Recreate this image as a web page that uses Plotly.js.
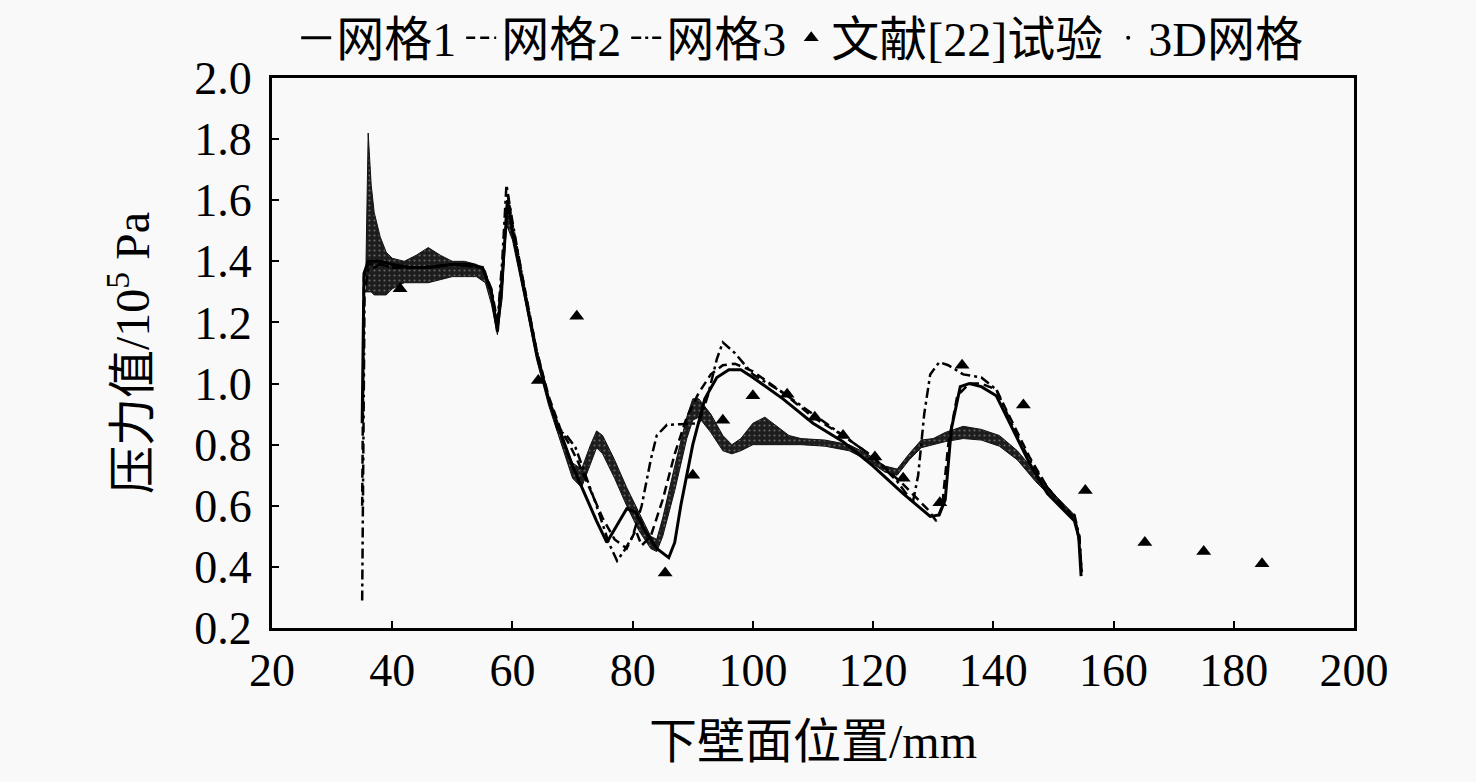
<!DOCTYPE html>
<html>
<head>
<meta charset="utf-8">
<script src="https://cdn.plot.ly/plotly-3.0.1.min.js"></script>
<style>
  html, body { margin: 0; padding: 0; background: #f9f9f9; }
  #myDiv { width: 1476px; height: 782px; }
</style>
</head>
<body>
<div id="myDiv"></div>
<script>
// 网格1 (solid)
var grid1_x = [35, 35.3, 36, 38, 40, 43, 46, 50, 53, 55, 56.5, 57.5, 58.3, 59.2, 60, 62, 64, 66, 68, 70, 72, 74, 75.7, 77.5, 79, 80.5, 82, 84, 86, 87, 88, 90, 92, 94, 96, 98, 100, 105, 110, 115, 120, 125, 129.5, 131, 132, 133, 134.5, 136, 138, 140.5, 143, 146, 149, 152, 153.5, 154.2, 154.6];
var grid1_y = [0.87, 1.36, 1.40, 1.40, 1.39, 1.38, 1.38, 1.39, 1.39, 1.38, 1.30, 1.17, 1.35, 1.60, 1.50, 1.30, 1.10, 0.95, 0.84, 0.73, 0.64, 0.55, 0.48, 0.54, 0.59, 0.58, 0.52, 0.46, 0.43, 0.48, 0.60, 0.80, 0.95, 1.02, 1.045, 1.045, 1.02, 0.95, 0.87, 0.81, 0.73, 0.64, 0.565, 0.57, 0.62, 0.85, 0.99, 1.00, 0.99, 0.96, 0.86, 0.74, 0.64, 0.58, 0.55, 0.50, 0.37];

// 网格2 (dashed)
var grid2_x = [35, 35.3, 36, 38, 40, 45, 50, 55, 56.5, 57.5, 58.3, 59.2, 60, 62, 64, 66, 68, 69.5, 71, 73, 75, 77, 79, 80.5, 81.5, 83, 85, 87, 89, 91, 93, 95, 97, 100, 105, 110, 115, 120, 125, 129, 130.5, 131.5, 132.5, 134, 136, 138, 140.5, 143, 146, 149, 152, 153.5, 154.3, 154.7];
var grid2_y = [0.60, 1.35, 1.39, 1.39, 1.38, 1.38, 1.39, 1.38, 1.30, 1.19, 1.35, 1.62, 1.52, 1.31, 1.11, 0.96, 0.85, 0.80, 0.74, 0.65, 0.56, 0.49, 0.46, 0.52, 0.47, 0.50, 0.62, 0.77, 0.89, 0.97, 1.03, 1.06, 1.065, 1.04, 0.97, 0.89, 0.83, 0.76, 0.67, 0.59, 0.55, 0.60, 0.80, 0.96, 1.00, 1.00, 0.98, 0.88, 0.76, 0.66, 0.59, 0.56, 0.50, 0.38];

// 网格3 (dash-dot)
var grid3_x = [35, 35.4, 36, 38, 40, 45, 50, 55, 56.5, 57.5, 58.3, 59, 60, 62, 64, 66, 67.5, 69, 70.5, 72, 74, 76, 77.4, 78.5, 80, 81.5, 83, 84, 85.7, 88, 91, 92.5, 94, 95, 97, 100, 105, 110, 115, 120, 124, 126.6, 127.5, 128.5, 129.5, 131, 132.5, 135, 138, 140.5, 143, 146, 149, 152, 153.5, 154.3, 154.7];
var grid3_y = [0.29, 1.30, 1.37, 1.39, 1.38, 1.38, 1.39, 1.38, 1.31, 1.20, 1.40, 1.65, 1.53, 1.31, 1.11, 0.95, 0.85, 0.83, 0.79, 0.71, 0.60, 0.48, 0.42, 0.45, 0.50, 0.60, 0.75, 0.83, 0.865, 0.867, 0.87, 0.96, 1.08, 1.135, 1.10, 1.03, 0.97, 0.90, 0.83, 0.76, 0.68, 0.61, 0.70, 0.90, 1.03, 1.07, 1.06, 1.03, 1.02, 0.98, 0.87, 0.75, 0.66, 0.59, 0.57, 0.50, 0.38];

// 文献[22]试验 (triangles)
var exp_x = [41.3, 64.3, 70.7, 85.4, 90, 95, 100, 105.7, 110.3, 115, 120.3, 125, 131.1, 134.8, 145, 155.3, 165.2, 175, 184.7];
var exp_y = [1.31, 1.01, 1.22, 0.38, 0.70, 0.88, 0.96, 0.965, 0.89, 0.83, 0.76, 0.69, 0.61, 1.06, 0.93, 0.65, 0.48, 0.45, 0.41];

// 3D网格 (dense point cloud, drawn as a band)
var mesh3d_x = [35.6, 36, 36.5, 37, 38, 39, 40, 42, 44, 46, 48, 50, 52, 54, 55.5, 56.5, 57.5, 58.3, 59, 60, 62, 64, 66, 68, 70, 71.5, 73, 74, 75, 77, 79, 81, 83, 84, 85, 87, 89, 90, 91, 93, 95, 96.5, 98, 100, 102, 104, 106, 108, 112, 116, 119, 122, 124, 126, 128, 130, 132, 135, 138, 141, 144, 147, 150, 152, 153.5, 154.2, 154.6];
var mesh3d_upper = [1.35, 1.82, 1.65, 1.56, 1.48, 1.43, 1.41, 1.40, 1.42, 1.445, 1.42, 1.40, 1.40, 1.39, 1.37, 1.30, 1.20, 1.30, 1.57, 1.50, 1.30, 1.10, 0.95, 0.84, 0.74, 0.72, 0.80, 0.845, 0.83, 0.75, 0.66, 0.58, 0.50, 0.49, 0.56, 0.73, 0.89, 0.95, 0.95, 0.90, 0.83, 0.80, 0.82, 0.87, 0.89, 0.86, 0.83, 0.82, 0.815, 0.80, 0.77, 0.73, 0.72, 0.77, 0.815, 0.82, 0.84, 0.86, 0.85, 0.83, 0.78, 0.71, 0.64, 0.60, 0.57, 0.50, 0.38];
var mesh3d_lower = [1.30, 1.30, 1.30, 1.29, 1.29, 1.29, 1.31, 1.33, 1.33, 1.33, 1.34, 1.35, 1.35, 1.35, 1.33, 1.26, 1.16, 1.28, 1.52, 1.47, 1.28, 1.08, 0.93, 0.81, 0.69, 0.66, 0.74, 0.79, 0.77, 0.69, 0.60, 0.52, 0.46, 0.45, 0.50, 0.65, 0.82, 0.88, 0.89, 0.84, 0.78, 0.77, 0.78, 0.80, 0.80, 0.80, 0.80, 0.80, 0.795, 0.78, 0.75, 0.71, 0.70, 0.75, 0.79, 0.80, 0.81, 0.82, 0.815, 0.795, 0.75, 0.68, 0.62, 0.58, 0.55, 0.48, 0.37];

var FONT = "'Liberation Serif', 'Noto Sans CJK SC', serif";

var band_lower = {
  x: mesh3d_x, y: mesh3d_lower,
  type: 'scatter', mode: 'lines',
  line: {color: '#111', width: 1},
  showlegend: false, hoverinfo: 'skip'
};
var band_upper = {
  x: mesh3d_x, y: mesh3d_upper,
  type: 'scatter', mode: 'lines',
  line: {color: '#111', width: 1},
  fill: 'tonexty',
  fillcolor: 'rgba(10,10,10,0.92)',
  fillpattern: {shape: '.', fgcolor: '#666', bgcolor: 'rgba(10,10,10,0.92)', size: 5, solidity: 0.15},
  showlegend: false, hoverinfo: 'skip'
};
var band_legend = {
  x: [null], y: [null],
  type: 'scatter', mode: 'markers',
  marker: {color: '#000', size: 4},
  name: '3D网格', legendrank: 5
};

var grid1 = {
  x: grid1_x, y: grid1_y,
  type: 'scatter', mode: 'lines',
  line: {color: '#000', width: 3},
  name: '网格1', legendrank: 1
};
var grid2 = {
  x: grid2_x, y: grid2_y,
  type: 'scatter', mode: 'lines',
  line: {color: '#000', width: 2.5, dash: '9px,5px'},
  name: '网格2', legendrank: 2
};
var grid3 = {
  x: grid3_x, y: grid3_y,
  type: 'scatter', mode: 'lines',
  line: {color: '#000', width: 2.5, dash: '10px,4px,3px,4px'},
  name: '网格3', legendrank: 3
};
var experiment = {
  x: exp_x, y: exp_y,
  type: 'scatter', mode: 'markers',
  marker: {symbol: 'triangle-up', color: '#000', size: 13},
  name: '文献[22]试验', legendrank: 4
};

var data = [band_lower, band_upper, grid1, grid2, grid3, experiment, band_legend];

var layout = {
  width: 1476,
  height: 782,
  margin: {l: 272, r: 122, t: 78, b: 154},
  paper_bgcolor: '#f9f9f9',
  plot_bgcolor: '#f9f9f9',
  font: {family: FONT, size: 46, color: '#000'},
  showlegend: true,
  legend: {
    orientation: 'h',
    traceorder: 'normal',
    x: 0.49, xanchor: 'center',
    yref: 'container',
    y: 1.0, yanchor: 'top',
    font: {family: FONT, size: 48, color: '#000'},
    bgcolor: 'rgba(0,0,0,0)',
    itemwidth: 30,
    tracegroupgap: 0
  },
  xaxis: {
    range: [20, 200],
    dtick: 20,
    tick0: 20,
    ticks: 'inside',
    ticklen: 7,
    tickwidth: 2,
    tickcolor: '#000',
    showline: true,
    linewidth: 3,
    linecolor: '#000',
    mirror: true,
    showgrid: false,
    zeroline: false,
    tickfont: {family: FONT, size: 46},
    title: {text: '下壁面位置/mm', font: {family: FONT, size: 48}, standoff: 30}
  },
  yaxis: {
    range: [0.2, 2.0],
    dtick: 0.2,
    tick0: 0.2,
    tickformat: '.1f',
    ticks: 'inside',
    ticklen: 7,
    tickwidth: 2,
    tickcolor: '#000',
    showline: true,
    linewidth: 3,
    linecolor: '#000',
    mirror: true,
    showgrid: false,
    zeroline: false,
    ticklabelstandoff: 8,
    tickfont: {family: FONT, size: 46},
    title: {text: '压力值/10<sup>5</sup> Pa', font: {family: FONT, size: 48}, standoff: 30}
  }
};

Plotly.newPlot('myDiv', data, layout, {staticPlot: true});
</script>
</body>
</html>
